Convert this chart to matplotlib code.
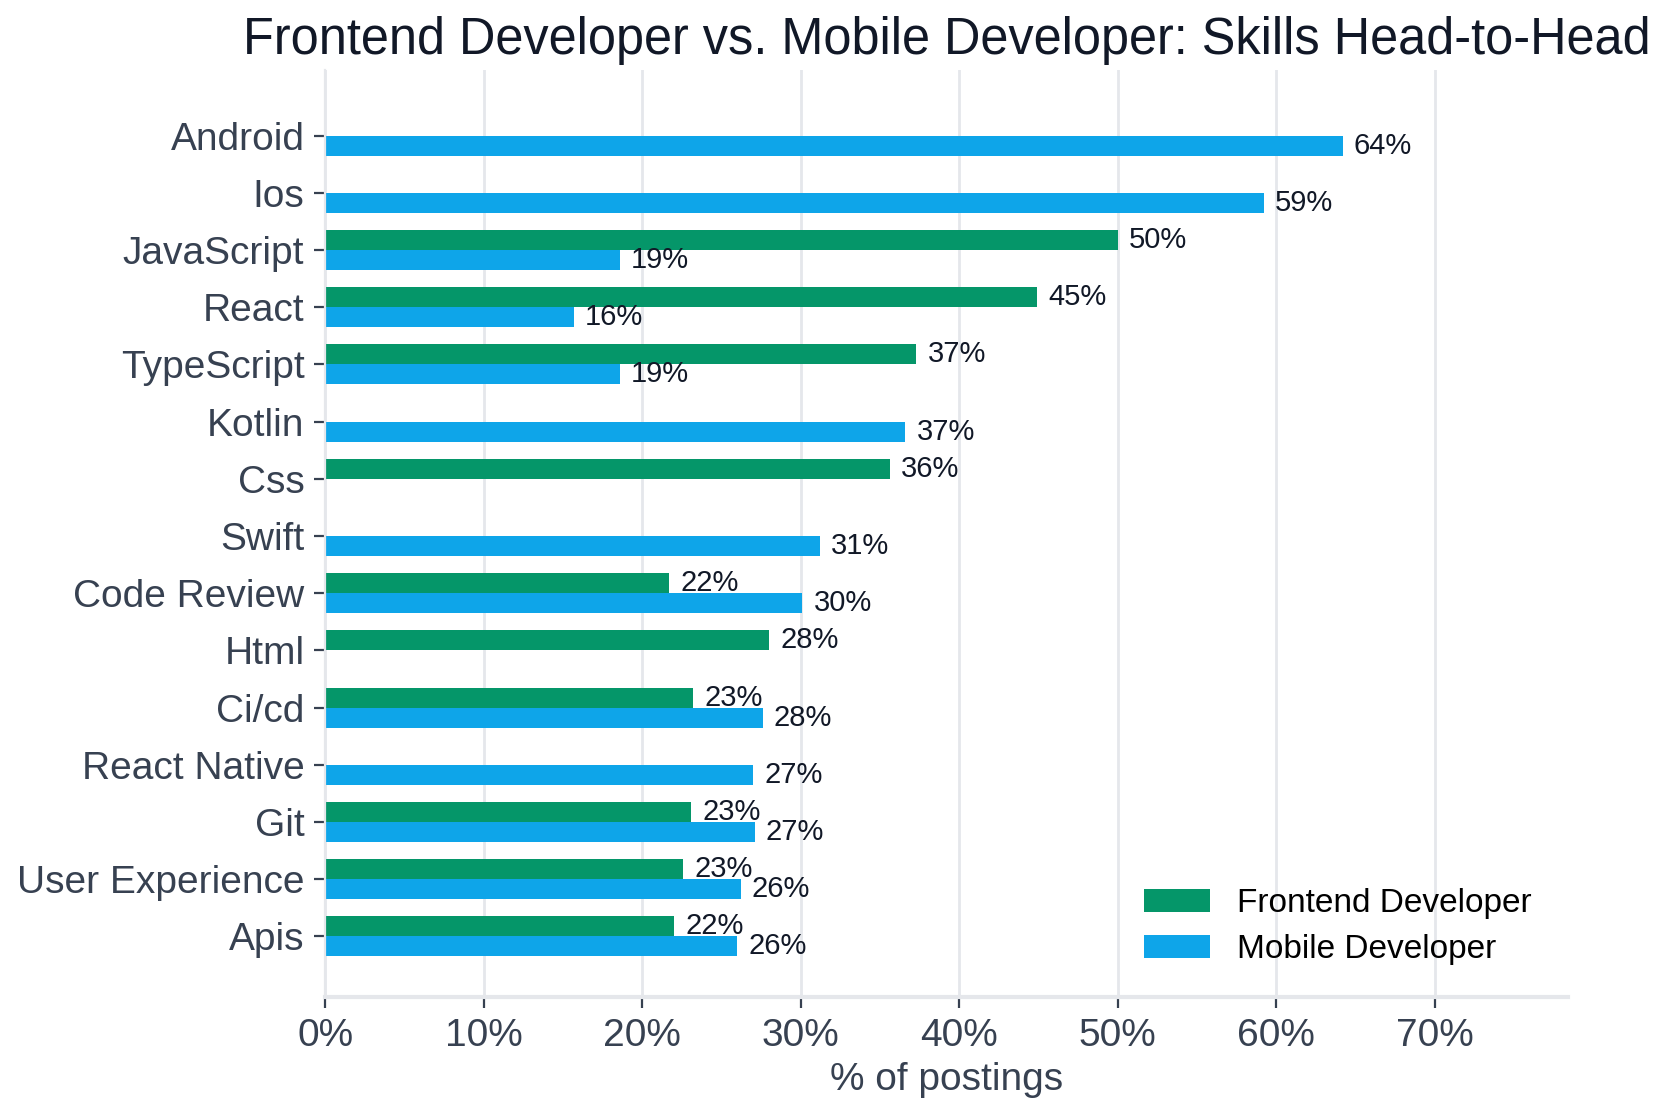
import numpy as np
import matplotlib
matplotlib.use("Agg")
import matplotlib.pyplot as plt

plt.rcParams['font.family'] = ['Liberation Sans', 'DejaVu Sans']

# data (% of postings), None where the skill isn't in that role's top list
skills = ["Android", "Ios", "JavaScript", "React", "TypeScript", "Kotlin", "Css",
          "Swift", "Code Review", "Html", "Ci/cd", "React Native", "Git",
          "User Experience", "Apis"]
frontend = [None, None, 50.0, 44.9, 37.3, None, 35.6,
            None, 21.7, 28.0, 23.2, None, 23.1, 22.6, 22.0]
mobile = [64.2, 59.2, 18.6, 15.7, 18.6, 36.6, None,
          31.2, 30.1, None, 27.6, 27.0, 27.1, 26.2, 26.0]
series_names = ["Frontend Developer", "Mobile Developer"]

green = "#059669"
blue = "#0ea5e9"
text_dark = "#374151"

fig, ax = plt.subplots(figsize=(8.34, 5.595), dpi=200)

y = np.arange(len(skills))
h = 0.35

fe_vals = np.array([np.nan if v is None else v for v in frontend])
mb_vals = np.array([np.nan if v is None else v for v in mobile])

ax.barh(y - h / 2, np.nan_to_num(fe_vals), height=h, color=green, label=series_names[0])
ax.barh(y + h / 2, np.nan_to_num(mb_vals), height=h, color=blue, label=series_names[1])

# value labels
for i in range(len(skills)):
    if not np.isnan(fe_vals[i]):
        ax.text(fe_vals[i] + 0.7, y[i] - h / 2, f"{fe_vals[i]:.0f}%", va="center",
                ha="left", fontsize=10.5, color="#111827")
    if not np.isnan(mb_vals[i]):
        ax.text(mb_vals[i] + 0.7, y[i] + h / 2, f"{mb_vals[i]:.0f}%", va="center",
                ha="left", fontsize=10.5, color="#111827")

ax.set_yticks(y)
ax.set_yticklabels(skills, fontsize=14, color=text_dark)
ax.set_ylim(len(skills) + 0.06, -1.14)

ax.set_xlim(0, 78.4)
ax.set_xticks(np.arange(0, 80, 10))
ax.set_xticklabels([f"{t}%" for t in range(0, 80, 10)], fontsize=14, color=text_dark)
ax.set_xlabel("% of postings", fontsize=14, color=text_dark, labelpad=3)

ax.grid(axis="x", color="#e5e7eb", linewidth=1)
ax.set_axisbelow(True)
for s in ["top", "right"]:
    ax.spines[s].set_visible(False)
ax.spines["left"].set_color("#e5e7eb")
ax.spines["bottom"].set_color("#e5e7eb")
ax.spines["bottom"].set_linewidth(1.5)
ax.tick_params(axis="both", colors=text_dark, length=4)
ax.tick_params(axis="both", labelcolor=text_dark)

ax.set_title("Frontend Developer vs. Mobile Developer: Skills Head-to-Head",
             fontsize=18.2, color="#111827", pad=6)

ax.legend(loc="lower right", frameon=False, fontsize=12, bbox_to_anchor=(0.995, 0.002),
          handlelength=2.0, handleheight=0.7, labelspacing=0.45, handletextpad=0.8)

fig.subplots_adjust(left=0.195, right=0.94, top=0.937, bottom=0.109)
fig.savefig("out.png", dpi=200)
